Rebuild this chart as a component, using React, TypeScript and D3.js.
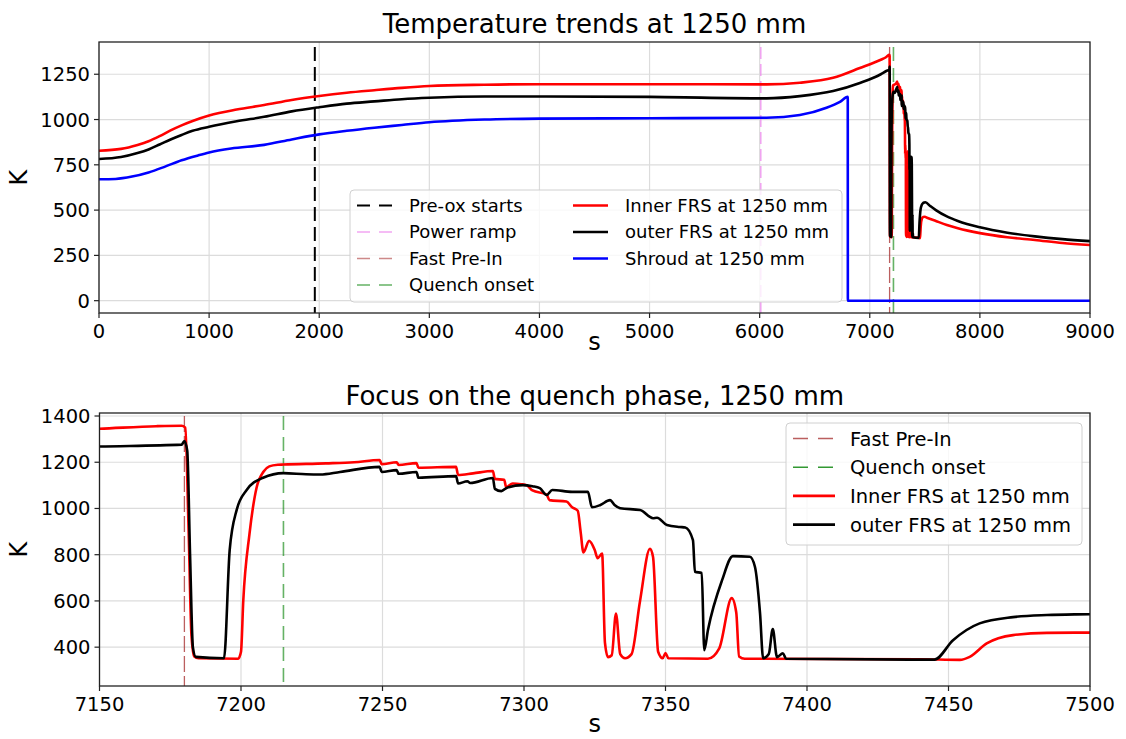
import React from "react";
import * as d3 from "d3";

type P = [number, number];

const innerFRS: P[] = [
  [0, 828], [200, 838], [350, 860], [450, 880], [550, 908], [650, 940], [750, 968], [850, 992], [1000, 1022],
  [1250, 1055], [1500, 1080], [1750, 1108], [2000, 1130], [2250, 1148], [2500, 1162], [2750, 1175], [3000, 1185],
  [3500, 1192], [4000, 1195], [5000, 1195], [6063, 1194], [6365, 1203], [6667, 1230], [6910, 1284],
  [7100, 1330], [7150, 1345], [7170, 1356], [7179, 1358], [7180.3, 1350], [7181.5, 900], [7182.5, 450],
  [7183.5, 360], [7185, 352], [7199, 350], [7200, 380], [7200.8, 600], [7203, 890], [7205.5, 1090],
  [7208, 1160], [7210, 1182], [7213, 1189], [7215, 1190], [7230, 1195], [7240, 1200], [7249, 1210],
  [7249.7, 1192], [7255, 1200], [7255.7, 1188], [7262, 1196], [7262.7, 1176], [7276, 1180], [7276.7, 1145],
  [7282, 1152], [7289, 1162], [7289.7, 1128], [7293, 1124], [7293.7, 1092], [7296, 1108], [7299, 1105],
  [7301, 1100], [7303, 1078], [7308, 1060], [7309, 1036], [7315, 1030], [7317, 1005], [7319, 990],
  [7320, 900], [7321, 810], [7323, 860], [7325, 820], [7326, 785], [7327.6, 805], [7328.6, 420],
  [7329.7, 357], [7331, 365], [7332.5, 545], [7334, 370], [7335.7, 352], [7338, 370], [7341, 600],
  [7344.5, 825], [7345.6, 790], [7347.4, 380], [7349, 352], [7350, 375], [7351, 352], [7365, 350],
  [7369, 395], [7373.4, 612], [7375, 550], [7376, 360], [7378, 350], [7440, 348], [7454, 345],
  [7457.5, 358], [7463.5, 416], [7472.8, 452], [7484.8, 462], [7500, 463], [7520, 458], [7600, 440],
  [7700, 418], [7800, 400], [8000, 373], [8250, 350], [8500, 335], [8750, 318], [9000, 307],
];

const outerFRS: P[] = [
  [0, 782], [200, 793], [350, 815], [450, 835], [550, 862], [650, 890], [750, 915], [850, 938], [1000, 960],
  [1250, 990], [1500, 1015], [1750, 1045], [2000, 1068], [2250, 1088], [2500, 1100], [2750, 1112],
  [3000, 1120], [3500, 1127], [4000, 1127], [5000, 1125], [6063, 1117], [6365, 1129], [6667, 1157],
  [6910, 1202], [7100, 1250], [7150, 1268], [7179, 1276], [7180, 1292], [7181, 1250], [7182, 800],
  [7183, 400], [7184, 358], [7194, 352], [7196, 820], [7198.5, 995], [7202, 1080], [7207.8, 1133],
  [7215, 1153], [7223, 1148], [7228, 1147], [7235, 1158], [7249, 1180], [7249.7, 1158], [7255, 1166],
  [7255.7, 1150], [7262, 1158], [7262.7, 1133], [7276, 1140], [7276.7, 1108], [7280, 1118], [7281, 1110],
  [7289, 1132], [7289.7, 1085], [7292, 1075], [7294, 1090], [7299.6, 1101], [7303, 1096], [7305.6, 1088],
  [7308, 1058], [7310, 1080], [7317, 1072], [7322.6, 1072], [7324, 1005], [7327, 1015], [7330.4, 1036],
  [7332, 1015], [7334, 1001], [7341, 993], [7345.6, 958], [7347, 960], [7350.5, 928], [7355, 920],
  [7357, 918], [7359.7, 863], [7360.4, 726], [7362.8, 721], [7363.7, 387], [7365, 474], [7370, 690],
  [7373.8, 794], [7379.8, 791], [7381.6, 748], [7383.4, 547], [7384.5, 352], [7386.5, 370], [7387.9, 478],
  [7389.4, 357], [7391.5, 374], [7392.6, 350], [7445, 346], [7451.6, 430], [7461, 503], [7472.8, 530],
  [7484.8, 539], [7495, 542], [7505, 543], [7550, 522], [7600, 500], [7700, 465], [7800, 440], [8000, 405],
  [8250, 375], [8500, 355], [8750, 340], [9000, 329],
];

const shroud: P[] = [
  [0, 670], [150, 672], [300, 685], [450, 708], [600, 740], [750, 775], [900, 802], [1000, 818], [1200, 840],
  [1500, 860], [1750, 890], [2000, 918], [2250, 938], [2500, 955], [2750, 970], [3000, 985], [3500, 1000],
  [4000, 1005], [5000, 1007], [6063, 1010], [6365, 1025], [6607, 1065], [6729, 1098], [6800, 1125],
  [6801, 0], [9000, 0],
];

const preOxStart = 1960;
const powerRamp = 6010;
const fastPreIn = 7180;
const quenchOnset = 7215;

const topXTicks = [0, 1000, 2000, 3000, 4000, 5000, 6000, 7000, 8000, 9000];
const topYTicks = [0, 250, 500, 750, 1000, 1250];
const botXTicks = [7150, 7200, 7250, 7300, 7350, 7400, 7450, 7500];
const botYTicks = [400, 600, 800, 1000, 1200, 1400];

const FONT = "DejaVu Sans";

type Panel = {
  id: string;
  x: d3.ScaleLinear<number, number>;
  y: d3.ScaleLinear<number, number>;
  xTicks: number[];
  yTicks: number[];
  title: string;
  titleY: number;
  xlabelY: number;
};

const top: Panel = {
  id: "top",
  x: d3.scaleLinear().domain([0, 9000]).range([99, 1090]),
  y: d3.scaleLinear().domain([-68, 1428]).range([313, 42]),
  xTicks: topXTicks,
  yTicks: topYTicks,
  title: "Temperature trends at 1250 mm",
  titleY: 33,
  xlabelY: 350,
};

const bot: Panel = {
  id: "bot",
  x: d3.scaleLinear().domain([7150, 7500]).range([99.5, 1090]),
  y: d3.scaleLinear().domain([232, 1413]).range([686, 413]),
  xTicks: botXTicks,
  yTicks: botYTicks,
  title: "Focus on the quench phase, 1250 mm",
  titleY: 405,
  xlabelY: 732,
};

function Axes({ p, children }: { p: Panel; children?: React.ReactNode }) {
  const [x0, x1] = p.x.range();
  const [y1, y0] = p.y.range();
  return (
    <g>
      <defs>
        <clipPath id={`clip-${p.id}`}>
          <rect x={x0} y={y0} width={x1 - x0} height={y1 - y0} />
        </clipPath>
      </defs>
      {p.xTicks.map((t) => (
        <line key={"gx" + t} x1={p.x(t)} x2={p.x(t)} y1={y0} y2={y1} stroke="#dcdcdc" strokeWidth={1.2} />
      ))}
      {p.yTicks.map((t) => (
        <line key={"gy" + t} x1={x0} x2={x1} y1={p.y(t)} y2={p.y(t)} stroke="#dcdcdc" strokeWidth={1.2} />
      ))}
      <g clipPath={`url(#clip-${p.id})`}>{children}</g>
      <rect x={x0} y={y0} width={x1 - x0} height={y1 - y0} fill="none" stroke="#222" strokeWidth={1.3} />
      {p.xTicks.map((t) => (
        <g key={"tx" + t}>
          <line x1={p.x(t)} x2={p.x(t)} y1={y1} y2={y1 + 5} stroke="#222" strokeWidth={1.2} />
          <text x={p.x(t)} y={y1 + 25} textAnchor="middle" fontSize={19.5} fontFamily={FONT} fill="#000">
            {t}
          </text>
        </g>
      ))}
      {p.yTicks.map((t) => (
        <g key={"ty" + t}>
          <line x1={x0 - 5} x2={x0} y1={p.y(t)} y2={p.y(t)} stroke="#222" strokeWidth={1.2} />
          <text x={x0 - 9} y={p.y(t) + 7} textAnchor="end" fontSize={19.5} fontFamily={FONT} fill="#000">
            {t}
          </text>
        </g>
      ))}
      <text x={(x0 + x1) / 2} y={p.titleY} textAnchor="middle" fontSize={26} fontFamily={FONT} fill="#000">
        {p.title}
      </text>
      <text x={(x0 + x1) / 2} y={p.xlabelY} textAnchor="middle" fontSize={24} fontFamily={FONT} fill="#000">
        s
      </text>
      <text
        transform={`translate(${27},${(y0 + y1) / 2}) rotate(-90)`}
        textAnchor="middle"
        fontSize={24}
        fontFamily={FONT}
        fill="#000"
      >
        K
      </text>
    </g>
  );
}

function series(p: Panel, data: P[]) {
  return d3
    .line<P>()
    .x((d) => p.x(d[0]))
    .y((d) => p.y(d[1]))
    .curve(d3.curveMonotoneX)(data) as string;
}

const VL = {
  preox: { color: "#000000", width: 2, dash: "14,6", opacity: 1 },
  power: { color: "#ee82ee", width: 1.6, dash: "12,5", opacity: 0.7 },
  fast: { color: "#a52a2a", width: 1.3, dash: "16,4", opacity: 0.75 },
  quench: { color: "#008000", width: 1.6, dash: "14,7", opacity: 0.6 },
};

function VLine({ p, t, s }: { p: Panel; t: number; s: { color: string; width: number; dash: string; opacity: number } }) {
  return (
    <line
      x1={p.x(t)}
      x2={p.x(t)}
      y1={p.y(1400)}
      y2={p.y(p.y.domain()[0]) + 2}
      stroke={s.color}
      strokeWidth={s.width}
      strokeDasharray={s.dash}
      opacity={s.opacity}
    />
  );
}

type LegItem = { label: string; color: string; dash?: string; width: number; opacity?: number };

function Legend({
  x, y, w, h, items, rowH, fontSize, handleLen, textGap, colW,
}: {
  x: number; y: number; w: number; h: number; items: LegItem[][]; rowH: number;
  fontSize: number; handleLen: number; textGap: number; colW: number;
}) {
  return (
    <g>
      <rect x={x} y={y} width={w} height={h} rx={4} fill="#fff" fillOpacity={0.8} stroke="#d0d0d0" strokeWidth={1} />
      {items.map((col, ci) =>
        col.map((it, ri) => {
          const hx = x + 7 + ci * colW;
          const cy = y + 15.5 + ri * rowH;
          return (
            <g key={ci + "-" + ri}>
              <line
                x1={hx}
                x2={hx + handleLen}
                y1={cy}
                y2={cy}
                stroke={it.color}
                strokeWidth={it.width}
                strokeDasharray={it.dash}
                opacity={it.opacity ?? 1}
              />
              <text x={hx + handleLen + textGap} y={cy + fontSize * 0.36} fontSize={fontSize} fontFamily={FONT} fill="#000">
                {it.label}
              </text>
            </g>
          );
        })
      )}
    </g>
  );
}

export default function App() {
  const lw = 2.6;
  return (
    <svg width={1126} height={739} style={{ position: "absolute", left: 0, top: 0, background: "#fff" }}>
      <rect x={0} y={0} width={1126} height={739} fill="#fff" />
      <Axes p={top}>
        <VLine p={top} t={preOxStart} s={VL.preox} />
        <VLine p={top} t={powerRamp} s={VL.power} />
        <VLine p={top} t={fastPreIn} s={VL.fast} />
        <VLine p={top} t={quenchOnset} s={VL.quench} />
        <path d={series(top, innerFRS)} fill="none" stroke="#ff0000" strokeWidth={lw} strokeLinejoin="round" />
        <path d={series(top, outerFRS)} fill="none" stroke="#000000" strokeWidth={lw} strokeLinejoin="round" />
        <path d={series(top, shroud)} fill="none" stroke="#0000ff" strokeWidth={lw} strokeLinejoin="round" />
      </Axes>
      <Legend
        x={350}
        y={190}
        w={492}
        h={112}
        rowH={26.5}
        fontSize={18}
        handleLen={35}
        textGap={17}
        colW={216}
        items={[
          [
            { label: "Pre-ox starts", color: "#000", dash: "13,9", width: 2 },
            { label: "Power ramp", color: "#ee82ee", dash: "13,9", width: 1.6, opacity: 0.7 },
            { label: "Fast Pre-In", color: "#a52a2a", dash: "13,9", width: 1.6, opacity: 0.55 },
            { label: "Quench onset", color: "#008000", dash: "13,9", width: 1.6, opacity: 0.6 },
          ],
          [
            { label: "Inner FRS at 1250 mm", color: "#ff0000", width: lw },
            { label: "outer FRS at 1250 mm", color: "#000000", width: lw },
            { label: "Shroud at 1250 mm", color: "#0000ff", width: lw },
          ],
        ]}
      />
      <Axes p={bot}>
        <VLine p={bot} t={fastPreIn} s={VL.fast} />
        <VLine p={bot} t={quenchOnset} s={VL.quench} />
        <path d={series(bot, innerFRS)} fill="none" stroke="#ff0000" strokeWidth={lw} strokeLinejoin="round" />
        <path d={series(bot, outerFRS)} fill="none" stroke="#000000" strokeWidth={lw} strokeLinejoin="round" />
      </Axes>
      <Legend
        x={786}
        y={423}
        w={296}
        h={122}
        rowH={28.7}
        fontSize={19.5}
        handleLen={42}
        textGap={15}
        colW={0}
        items={[
          [
            { label: "Fast Pre-In", color: "#a52a2a", dash: "15,10", width: 1.3, opacity: 0.75 },
            { label: "Quench onset", color: "#008000", dash: "15,10", width: 1.6, opacity: 0.8 },
            { label: "Inner FRS at 1250 mm", color: "#ff0000", width: lw },
            { label: "outer FRS at 1250 mm", color: "#000000", width: lw },
          ],
        ]}
      />
    </svg>
  );
}
